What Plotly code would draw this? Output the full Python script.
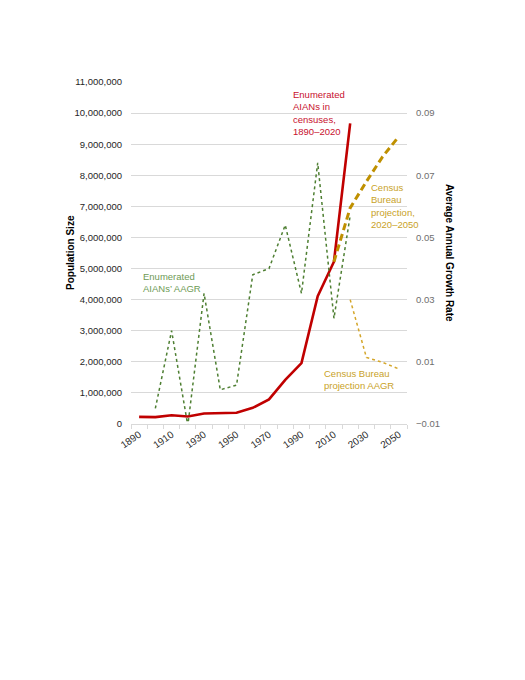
import plotly.graph_objects as go

# Enumerated AIAN population in censuses, 1890-2020
census_years = [1890, 1900, 1910, 1920, 1930, 1940, 1950, 1960, 1970, 1980, 1990, 2000, 2010, 2020]
census_pop = [230000, 220000, 280000, 240000, 340000, 340000, 360000, 520000, 790000,
              1420000, 1960000, 4110000, 5220000, 9670000]

# Census Bureau projection, 2020-2050 (joined to the 2010 count)
proj_years = [2010, 2020, 2030, 2040, 2050]
proj_pop = [5220000, 6950000, 7800000, 8600000, 9250000]

# average annual growth rates (right axis)
aagr_years = [1900, 1910, 1920, 1930, 1940, 1950, 1960, 1970, 1980, 1990, 2000, 2010, 2020]
aagr = [-0.005, 0.020, -0.0105, 0.032, 0.001, 0.0025, 0.038, 0.040, 0.054, 0.032, 0.074, 0.024, 0.057]
proj_aagr_years = [2020, 2030, 2040, 2050]
proj_aagr = [0.030, 0.0114, 0.0098, 0.0077]

label_years = [1890, 1910, 1930, 1950, 1970, 1990, 2010, 2030, 2050]
right_ticks = [-0.01, 0.01, 0.03, 0.05, 0.07, 0.09]
right_text = ["\u22120.01", "0.01", "0.03", "0.05", "0.07", "0.09"]

RED = "#C00000"
GREEN = "#4E7F32"
GOLD = "#BF9000"
GOLD_LIGHT = "#D4A62A"
FONT = "Liberation Sans"

fig = go.Figure()

fig.add_trace(go.Scatter(x=aagr_years, y=aagr, yaxis="y2", mode="lines",
                         line=dict(color=GREEN, width=1.5, dash="dot")))
fig.add_trace(go.Scatter(x=proj_aagr_years, y=proj_aagr, yaxis="y2", mode="lines",
                         line=dict(color=GOLD_LIGHT, width=1.5, dash="dot")))
fig.add_trace(go.Scatter(x=census_years, y=census_pop, mode="lines",
                         line=dict(color=RED, width=2.6)))
fig.add_trace(go.Scatter(x=proj_years, y=proj_pop, mode="lines",
                         line=dict(color=GOLD, width=3, dash="7px,4px")))

# text labels next to the series
fig.add_annotation(x=1984, y=10800000, text="Enumerated<br>AIANs in<br>censuses,<br>1890\u20132020",
                   font=dict(color="#C8102E"), align="left")
fig.add_annotation(x=2032, y=7800000, text="Census<br>Bureau<br>projection,<br>2020\u20132050",
                   font=dict(color="#C9A227"), align="left")
fig.add_annotation(x=1891.5, y=4950000, text="Enumerated<br>AIANs\u2019 AAGR",
                   font=dict(color="#6E9A55"), align="left")
fig.add_annotation(x=2003, y=1830000, text="Census Bureau<br>projection AAGR",
                   font=dict(color="#C9A227"), align="left")
fig.update_annotations(xref="x", yref="y", xanchor="left", yanchor="top",
                       showarrow=False, borderpad=0, font_size=9.5)

# axis titles
fig.add_annotation(x=-0.221, y=0.5, xref="paper", yref="paper", xanchor="center", yanchor="middle",
                   text="<b>Population Size</b>", textangle=-90, showarrow=False,
                   font=dict(size=10, color="#000000"))
fig.add_annotation(x=1.156, y=0.5, xref="paper", yref="paper", xanchor="center", yanchor="middle",
                   text="<b>Average Annual Growth Rate</b>", textangle=90, showarrow=False,
                   font=dict(size=10, color="#000000"))

# page body adds 8px, so the figure is 8px smaller than the window
fig.update_layout(
    width=517, height=672,
    margin=dict(l=123, r=118, t=74, b=256),
    plot_bgcolor="white", paper_bgcolor="white",
    showlegend=False,
    font=dict(family=FONT, size=9, color="#404040"),
    xaxis=dict(range=[1885, 2055], tickvals=label_years, ticks="", tickangle=-35,
               showgrid=False, zeroline=False, showline=True, linecolor="#D9D9D9", linewidth=1,
               tickfont=dict(size=10, color="#262626"),
               minor=dict(tick0=1885, dtick=10, ticks="outside", ticklen=4,
                          tickcolor="#D9D9D9", showgrid=False)),
    yaxis=dict(range=[0, 11000000], dtick=1000000, tickformat=",", showgrid=True,
               gridcolor="#D9D9D9", gridwidth=1, zeroline=False, ticklabelstandoff=8,
               tickfont=dict(size=9.5, color="#262626")),
    yaxis2=dict(range=[-0.01, 0.10], overlaying="y", side="right", tickvals=right_ticks,
                ticktext=right_text, showgrid=False, zeroline=False, ticklabelstandoff=8,
                tickfont=dict(size=9.5, color="#6E6E6E")),
)

fig.write_html("out.html")
